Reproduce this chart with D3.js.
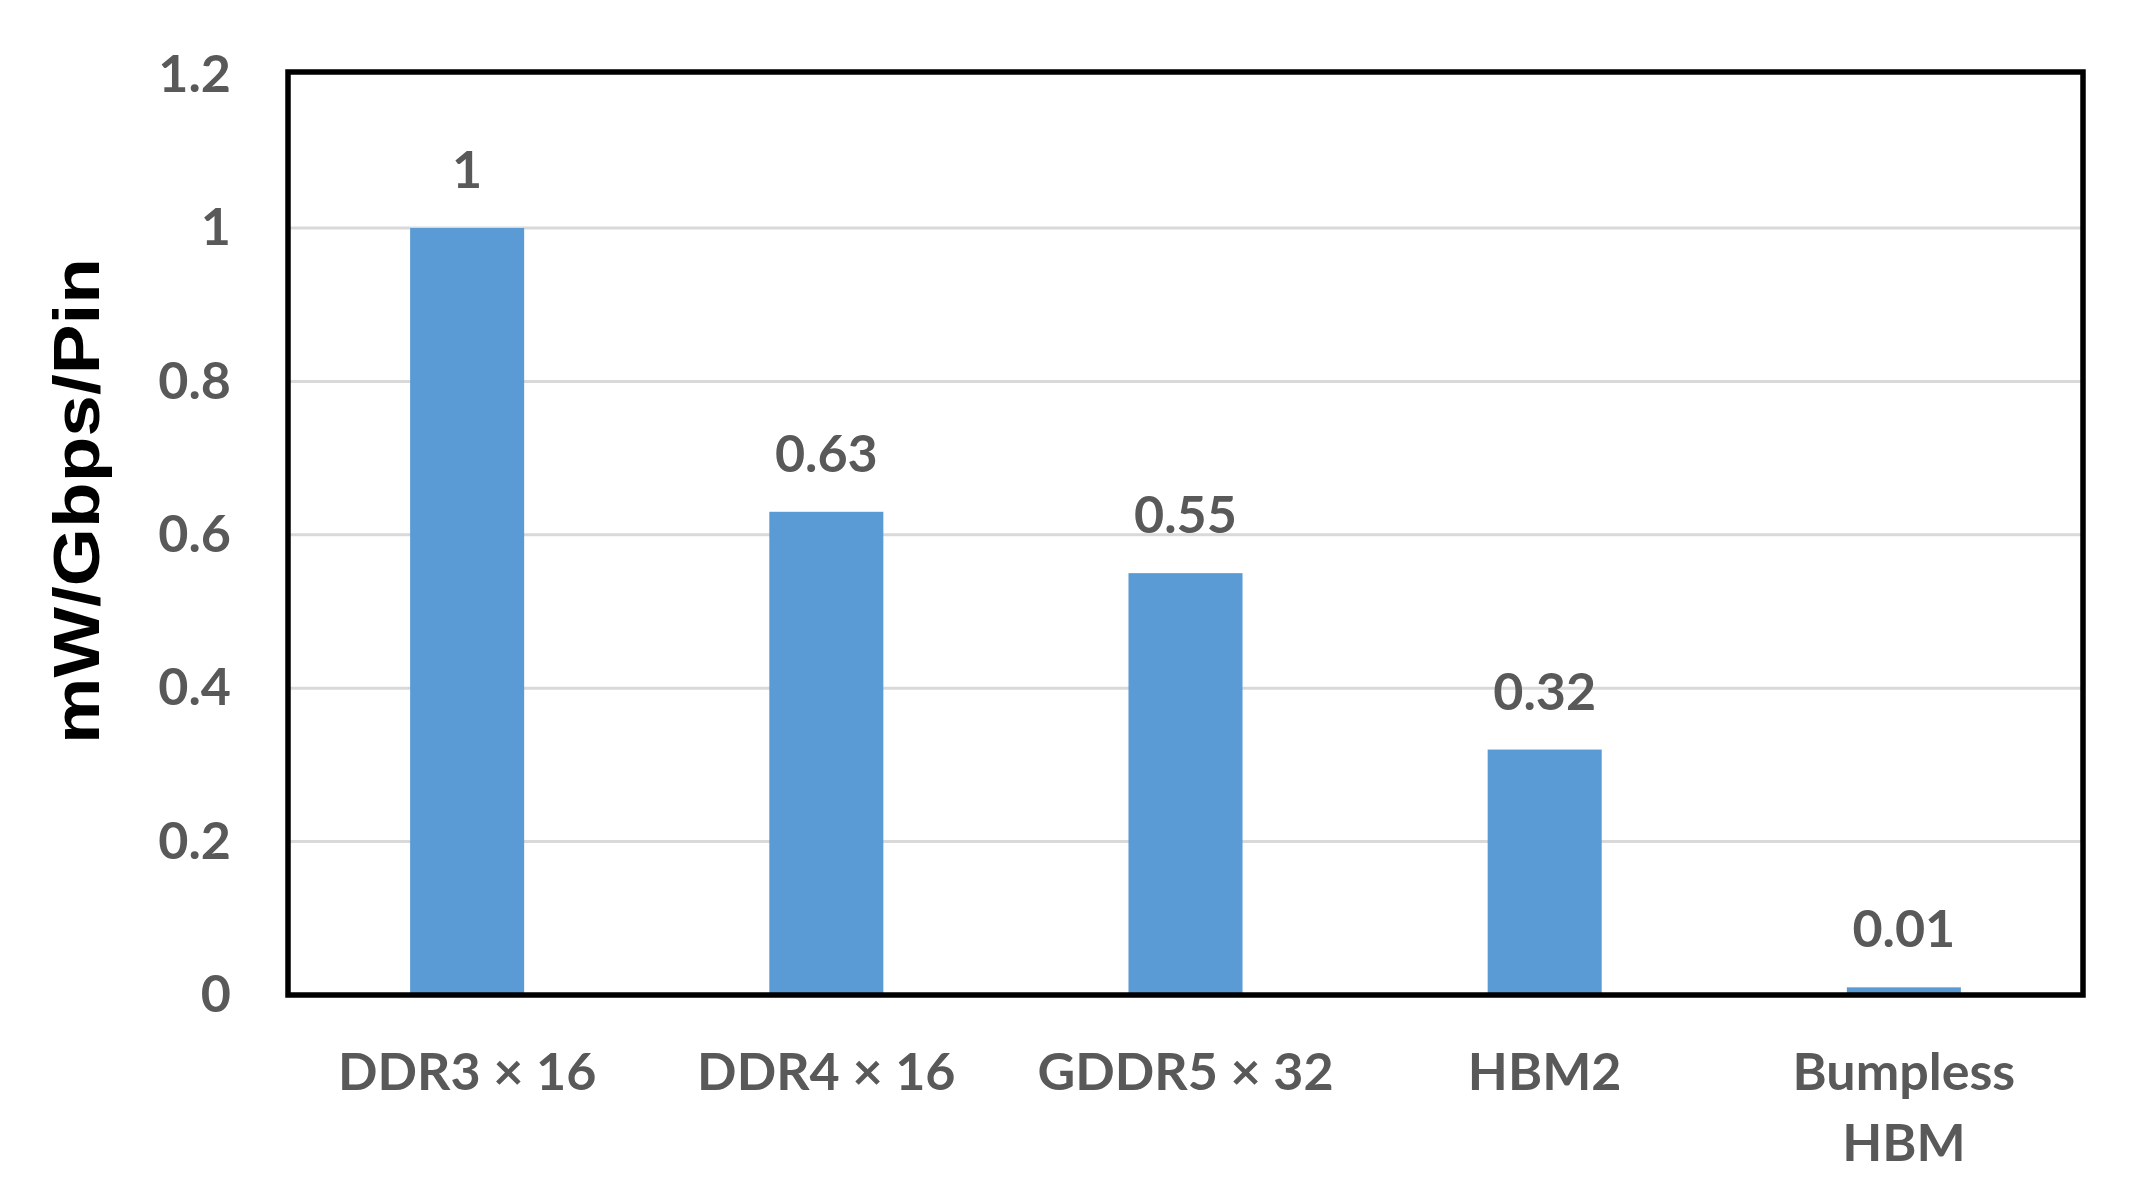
<!DOCTYPE html>
<html>
<head>
<meta charset="utf-8">
<script src="https://cdn.jsdelivr.net/npm/d3@7"></script>
<style>
html, body { margin: 0; padding: 0; background: #fff; }
svg { display: block; }
</style>
</head>
<body>
<svg id="chart" width="2131" height="1191"></svg>
<script>
const categories = [["DDR3 × 16"], ["DDR4 × 16"], ["GDDR5 × 32"], ["HBM2"], ["Bumpless", "HBM"]];
const values = [1, 0.63, 0.55, 0.32, 0.01];
const valueLabels = ["1", "0.63", "0.55", "0.32", "0.01"];
const yTicks = [0, 0.2, 0.4, 0.6, 0.8, 1, 1.2];
const yTickLabels = ["0", "0.2", "0.4", "0.6", "0.8", "1", "1.2"];
const yTitle = "mW/Gbps/Pin";

(function () {
const mLeft = 288, mRight = 2083, mTop = 72, mBottom = 995;
const textColor = "#595959";
const labelFont = "Lato, 'Open Sans', sans-serif";

const svg = d3.select("#chart");

const keys = categories.map(c => c.join(" "));
const x = d3.scaleBand().domain(keys).range([mLeft, mRight]).paddingInner(0.6825).paddingOuter(0.34);
const y = d3.scaleLinear().domain([0, 1]).range([mBottom, 228]);

// gridlines
svg.append("g").selectAll("line")
  .data(yTicks.filter(t => t > 0 && t < 1.2))
  .join("line")
  .attr("x1", mLeft).attr("x2", mRight)
  .attr("y1", d => y(d)).attr("y2", d => y(d))
  .attr("stroke", "#d9d9d9").attr("stroke-width", 3);

// bars
svg.append("g").selectAll("rect")
  .data(values)
  .join("rect")
  .attr("x", (d, i) => x(keys[i]))
  .attr("width", x.bandwidth())
  .attr("y", d => y(d))
  .attr("height", d => y(0) - y(d))
  .attr("fill", "#5b9bd5");

// value labels
svg.append("g").selectAll("text")
  .data(values)
  .join("text")
  .attr("x", (d, i) => x(keys[i]) + x.bandwidth() / 2)
  .attr("y", d => y(d) - 40)
  .attr("text-anchor", "middle")
  .attr("font-family", labelFont)
  .attr("font-weight", "bold")
  .attr("font-size", 52)
  .attr("fill", textColor)
  .text((d, i) => valueLabels[i]);

// plot box
svg.append("rect")
  .attr("x", mLeft).attr("y", mTop)
  .attr("width", mRight - mLeft).attr("height", mBottom - mTop)
  .attr("fill", "none").attr("stroke", "#000").attr("stroke-width", 5.5);

// y axis
const yAxis = d3.axisLeft(y).tickValues(yTicks).tickFormat((d, i) => yTickLabels[i]).tickSize(0).tickPadding(57);
const gy = svg.append("g").attr("transform", `translate(${mLeft},0)`).call(yAxis);
gy.select(".domain").remove();
gy.selectAll("text")
  .attr("font-family", labelFont)
  .attr("font-weight", "bold")
  .attr("font-size", 52)
  .attr("fill", textColor);

// x axis labels
const xg = svg.append("g").selectAll("text")
  .data(categories)
  .join("text")
  .attr("x", (d, i) => x(keys[i]) + x.bandwidth() / 2)
  .attr("y", 1090)
  .attr("text-anchor", "middle")
  .attr("font-family", labelFont)
  .attr("font-weight", "bold")
  .attr("font-size", 52)
  .attr("fill", textColor);
xg.each(function (d) {
  const t = d3.select(this);
  d.forEach((line, j) => {
    t.append("tspan")
      .attr("x", t.attr("x"))
      .attr("dy", j === 0 ? 0 : 71)
      .text(line);
  });
});

// y title
svg.append("text")
  .attr("transform", `translate(99,501) rotate(-90)`)
  .attr("text-anchor", "middle")
  .attr("font-family", "'Liberation Sans', Arial, sans-serif")
  .attr("font-weight", "bold")
  .attr("font-size", 64)
  .attr("textLength", 486)
  .attr("lengthAdjust", "spacingAndGlyphs")
  .attr("fill", "#000")
  .text(yTitle);
})();
</script>
</body>
</html>
